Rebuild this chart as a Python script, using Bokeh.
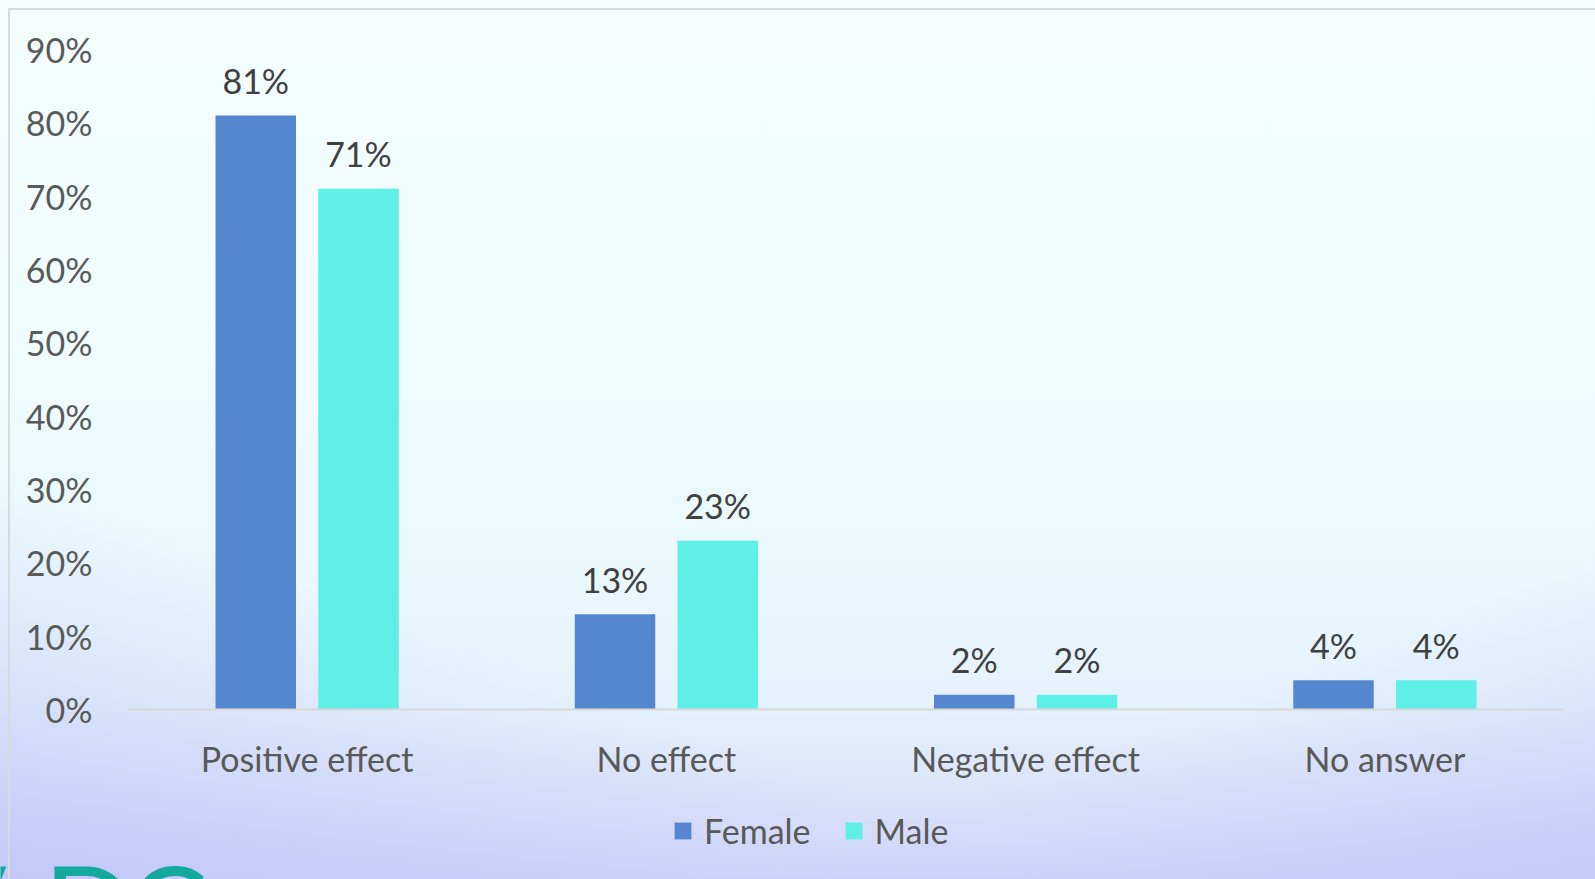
from bokeh.plotting import figure
from bokeh.models import (ColumnDataSource, Range1d, FixedTicker,
                          Legend, LegendItem)
from bokeh.transform import dodge
from bokeh.core.properties import value
from bokeh.embed import file_html
from bokeh.resources import INLINE

# Survey answers by gender (percent of respondents)
categories = ["Positive effect", "No effect", "Negative effect", "No answer"]
female = [81, 13, 2, 4]
male = [71, 23, 2, 4]

y_ticks = [0, 10, 20, 30, 40, 50, 60, 70, 80, 90]
y_tick_labels = ["0%", "10%", "20%", "30%", "40%", "50%", "60%", "70%", "80%", "90%"]

FONT = "Lato"
AXIS_GREY = "#595959"
LABEL_DARK = "#404040"
FEMALE_COLOR = "#5586D0"
MALE_COLOR = "#5EEFE6"
LOGO_TEAL = "#14A99C"

W, H = 1595, 879
# plot area geometry in pixels
LEFT, RIGHT, BASE_Y, TOP90_Y = 127, 1564, 709, 49
n = len(categories)
px_per_cat = (RIGHT - LEFT) / n
px_per_pct = (BASE_Y - TOP90_Y) / 90


def to_data(px, py):
    """canvas pixel -> data coordinates"""
    return (px - LEFT) / px_per_cat, (BASE_Y - py) / px_per_pct


# one unit per category slot, centred on i + 0.5
x_center = [i + 0.5 for i in range(n)]

src = ColumnDataSource(dict(
    x=x_center,
    female=female,
    male=male,
    female_lbl=[f"{v}%" for v in female],
    male_lbl=[f"{v}%" for v in male],
))

p = figure(
    width=W, height=H,
    x_range=Range1d(-LEFT / px_per_cat, (W - LEFT) / px_per_cat),
    y_range=Range1d(-(H - BASE_Y) / px_per_pct, BASE_Y / px_per_pct),
    output_backend="svg", toolbar_location=None,
    min_border=0,
)

# transparent canvas; the page element carries the soft slide gradient
p.background_fill_alpha = 0
p.border_fill_alpha = 0
p.outline_line_color = None
p.styles = {
    "background": (
        "linear-gradient(#DADADA,#DADADA) 8px 8px / 100% 2px no-repeat,"
        "linear-gradient(#DADADA,#DADADA) 8px 8px / 2px 100% no-repeat,"
        "linear-gradient(200deg, rgba(255,255,255,0) 72%, rgba(185,190,247,0.6) 100%),"
        "linear-gradient(160deg, rgba(255,255,255,0) 78%, rgba(185,190,247,0.55) 100%),"
        "linear-gradient(180deg, #F5FDFD 0%, #F1FCFD 35%, #EBF9FC 62%, #E6F2FC 80%, "
        "#DDE4FA 90%, #D2D7F9 100%)"
    )
}

p.xgrid.visible = False
p.ygrid.visible = False

# corner of the slide logo peeking in at the bottom left
logo_letters = ["V", "D", "C"]
logo_px = [-75, 43, 127]
logo_xy = [to_data(px, 906) for px in logo_px]
p.text(x=[xy[0] for xy in logo_xy], y=[xy[1] for xy in logo_xy],
       text=logo_letters, text_align="left", text_baseline="alphabetic",
       text_font=value(FONT), text_font_size="120px", text_color=LOGO_TEAL)

rf = p.vbar(x=dodge("x", -0.143), top="female", width=0.224,
            source=src, fill_color=FEMALE_COLOR, line_color=None)
rm = p.vbar(x=dodge("x", 0.143), top="male", width=0.224,
            source=src, fill_color=MALE_COLOR, line_color=None)

# value labels above the bars
for col, off in (("female", -0.143), ("male", 0.143)):
    p.text(x=dodge("x", off), y=col, text=f"{col}_lbl",
           source=src, text_align="center", text_baseline="alphabetic",
           y_offset=-35, text_font=value(FONT), text_font_size="34px",
           text_color=LABEL_DARK)

xa = p.xaxis[0]
xa.fixed_location = 0
xa.bounds = (0, n)
xa.ticker = FixedTicker(ticks=x_center)
xa.major_label_overrides = {c: name for c, name in zip(x_center, categories)}
xa.axis_line_color = "#D9D9D9"
xa.axis_line_width = 2
xa.major_tick_line_color = None
xa.minor_tick_line_color = None
xa.major_label_standoff = 22
xa.major_label_text_font = FONT
xa.major_label_text_font_size = "34px"
xa.major_label_text_color = AXIS_GREY

ya = p.yaxis[0]
ya.fixed_location = 0
ya.ticker = FixedTicker(ticks=y_ticks)
ya.major_label_overrides = {t: s for t, s in zip(y_ticks, y_tick_labels)}
ya.axis_line_color = None
ya.major_tick_line_color = None
ya.minor_tick_line_color = None
ya.major_label_standoff = 29
ya.major_label_text_font = FONT
ya.major_label_text_font_size = "34px"
ya.major_label_text_color = AXIS_GREY

legend = Legend(
    items=[LegendItem(label="Female", renderers=[rf]),
           LegendItem(label="Male", renderers=[rm])],
    orientation="horizontal", location=(672, 28),
    glyph_width=21, glyph_height=21, label_standoff=11, spacing=32,
    padding=0, margin=0, border_line_color=None, background_fill_alpha=0,
    label_text_font=FONT, label_text_font_size="34px",
    label_text_color=AXIS_GREY,
)
p.add_layout(legend)

open("out.html", "w").write(file_html(p, INLINE))
